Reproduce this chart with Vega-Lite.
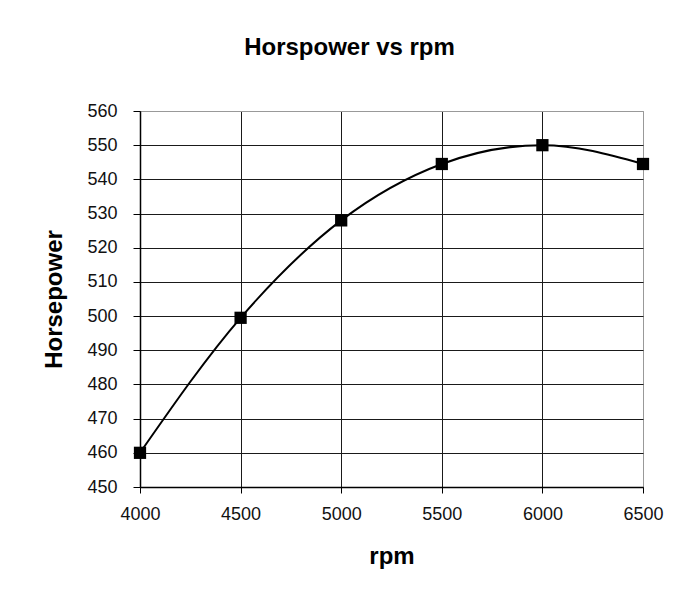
{
  "$schema": "https://vega.github.io/schema/vega-lite/v6.json",
  "width": 503,
  "height": 376,
  "autosize": {"type": "none"},
  "padding": {"left": 140, "top": 111, "right": 48, "bottom": 105},
  "background": "white",
  "title": {
    "text": "Horspower vs rpm",
    "font": "Liberation Sans",
    "fontSize": 24,
    "fontWeight": "bold",
    "color": "#000000",
    "anchor": "middle",
    "frame": "group",
    "dx": -42,
    "offset": 42
  },
  "data": {
    "values": [
      {"rpm": 4000, "hp": 460},
      {"rpm": 4500, "hp": 499.5},
      {"rpm": 5000, "hp": 528},
      {"rpm": 5500, "hp": 544.5},
      {"rpm": 6000, "hp": 550},
      {"rpm": 6500, "hp": 544.5}
    ]
  },
  "encoding": {
    "x": {
      "field": "rpm",
      "type": "quantitative",
      "title": "rpm",
      "scale": {"domain": [4000, 6500], "nice": false, "zero": false},
      "axis": {
        "values": [4000, 4500, 5000, 5500, 6000, 6500],
        "format": "d",
        "labelFlush": false,
        "labelOverlap": false,
        "grid": true,
        "gridColor": {"condition": {"test": "datum.value === 6500", "value": "#999999"}, "value": "#1a1a1a"},
        "gridOpacity": 1,
        "gridWidth": 1,
        "domainColor": "#000000",
        "domainWidth": 1.5,
        "tickColor": "#000000",
        "tickSize": 6,
        "tickWidth": 1,
        "labelFont": "Liberation Sans",
        "labelFontSize": 18,
        "labelColor": "#111111",
        "labelPadding": 12,
        "titleFont": "Liberation Sans",
        "titleFontSize": 24,
        "titleFontWeight": "bold",
        "titleColor": "#000000",
        "titlePadding": 21
      }
    },
    "y": {
      "field": "hp",
      "type": "quantitative",
      "title": "Horsepower",
      "scale": {"domain": [450, 560], "nice": false, "zero": false},
      "axis": {
        "values": [450, 460, 470, 480, 490, 500, 510, 520, 530, 540, 550, 560],
        "labelFlush": false,
        "labelOverlap": false,
        "grid": true,
        "gridColor": {"condition": {"test": "datum.value === 560", "value": "#999999"}, "value": "#1a1a1a"},
        "gridOpacity": 1,
        "gridWidth": 1,
        "domainColor": "#000000",
        "domainWidth": 1.5,
        "tickColor": "#000000",
        "tickSize": 7,
        "tickWidth": 1,
        "labelFont": "Liberation Sans",
        "labelFontSize": 18,
        "labelColor": "#111111",
        "labelPadding": 16,
        "titleFont": "Liberation Sans",
        "titleFontSize": 24,
        "titleFontWeight": "bold",
        "titleColor": "#000000",
        "titlePadding": 20
      }
    }
  },
  "layer": [
    {
      "mark": {"type": "line", "interpolate": "monotone", "color": "#000000", "strokeWidth": 2}
    },
    {
      "mark": {"type": "point", "shape": "square", "filled": true, "color": "#000000", "opacity": 1, "size": 150}
    }
  ],
  "config": {
    "view": {"stroke": "#999999", "strokeWidth": 1}
  }
}
